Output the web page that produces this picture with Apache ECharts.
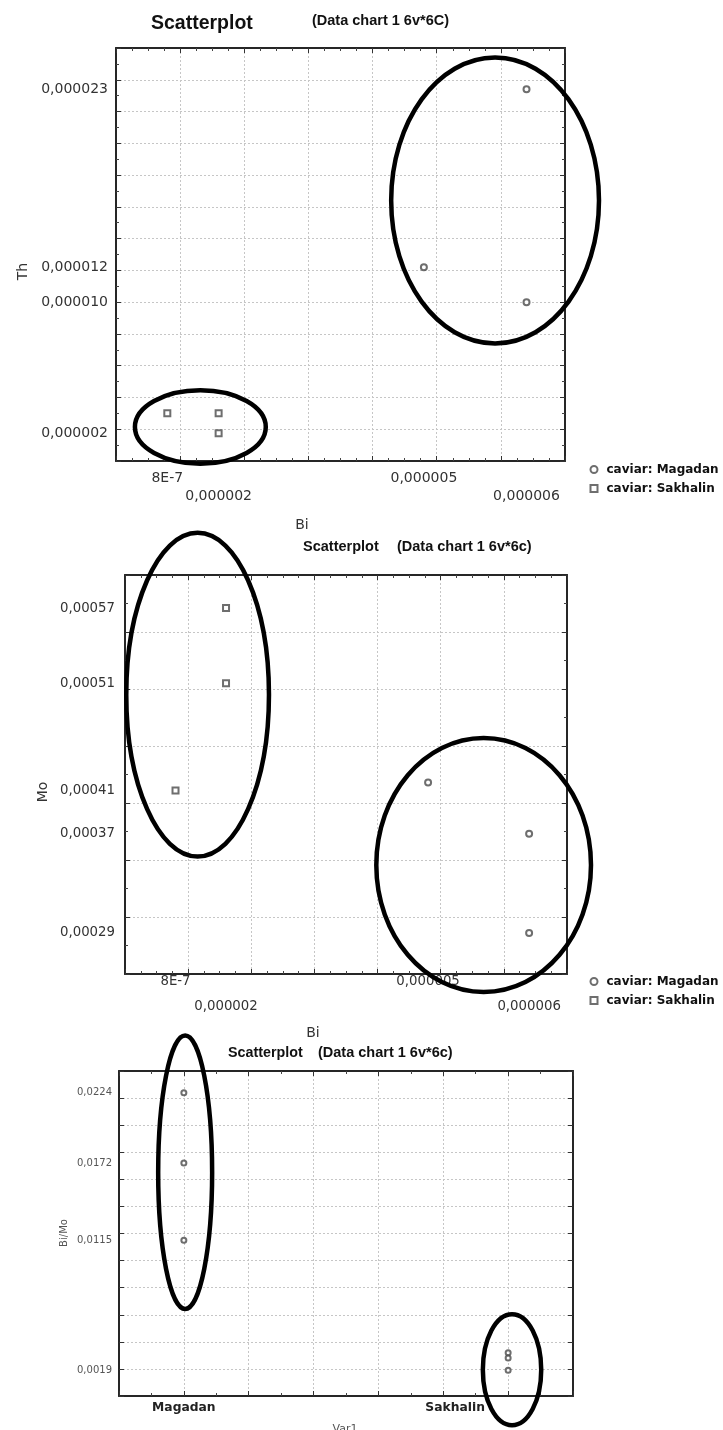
<!DOCTYPE html>
<html>
<head>
<meta charset="utf-8">
<script src="https://cdn.jsdelivr.net/npm/echarts@6/dist/echarts.min.js"></script>
<style>
  html, body { margin: 0; padding: 0; background: #fff; }
  #chart { width: 723px; height: 1430px; }
</style>
</head>
<body>
<div id="chart"></div>
<script>
// ---- Panel 1: Th against Bi ----
const thBiMagadan = [[6.4e-6, 23.4e-6], [4.8e-6, 12.2e-6], [6.4e-6, 10.0e-6]];
const thBiSakhalin = [[0.8e-6, 3.0e-6], [1.6e-6, 3.0e-6], [1.6e-6, 1.75e-6]];
// group outlines: centre x, centre y, radius x, radius y
const thBiGroups = [[5.91e-6, 16.4e-6, 1.62e-6, 9.0e-6], [1.315e-6, 2.14e-6, 1.02e-6, 2.31e-6]];
const biTickValues = [0.8e-6, 1.6e-6, 4.8e-6, 6.4e-6];
const biTickLabels = ['8E-7', '0,000002', '0,000005', '0,000006'];
const thTickValues = [23.4e-6, 12.2e-6, 10.0e-6, 1.75e-6];
const thTickLabels = ['0,000023', '0,000012', '0,000010', '0,000002'];

// ---- Panel 2: Mo against Bi ----
const moBiMagadan = [[4.8e-6, 0.000418], [6.4e-6, 0.000373], [6.4e-6, 0.000286]];
const moBiSakhalin = [[1.6e-6, 0.000571], [1.6e-6, 0.000505], [0.8e-6, 0.000411]];
const moBiGroups = [[1.15e-6, 0.000495, 1.13e-6, 0.000142], [5.68e-6, 0.0003456, 1.7e-6, 0.0001114]];
const moTickValues = [0.000571, 0.000505, 0.000411, 0.000373, 0.000286];
const moTickLabels = ['0,00057', '0,00051', '0,00041', '0,00037', '0,00029'];

// ---- Panel 3: Bi/Mo by region (Var1) ----
const regions = ['Magadan', 'Sakhalin'];
const regionCodes = [1, 6];
const ratioMagadan = [0.0224, 0.0172, 0.0115];
const ratioSakhalin = [0.0032, 0.0028, 0.0019];
const ratioGroups = [[1.02, 0.01652, 0.416, 0.0101], [6.06, 0.00194, 0.45, 0.0041]];
const ratioTickValues = [0.0224, 0.0172, 0.0115, 0.0019];
const ratioTickLabels = ['0,0224', '0,0172', '0,0115', '0,0019'];

const LEGEND_NAMES = ['caviar: Magadan', 'caviar: Sakhalin'];
const TICK_FONT = 'DejaVu Sans';
const TITLE_FONT = 'Liberation Sans';

function findTick(v, values) {
  return values.findIndex(t => Math.abs(t - v) <= Math.abs(t) * 1e-6 + 1e-15);
}
function lookup(v, values, labels) {
  const i = findTick(v, values);
  return i < 0 ? '' : labels[i];
}
function staggered(v, values, labels) {
  const i = findTick(v, values);
  if (i < 0) return '';
  return i % 2 ? '{gap| }\n{t|' + labels[i] + '}' : '{t|' + labels[i] + '}';
}

// Framed axis: labelled primary side plus a mirrored side for the box and inner ticks
function framedAxis(dim, gridIndex, o) {
  const isX = dim === 'x';
  const base = {
    type: 'value', gridIndex: gridIndex, min: o.min, max: o.max, interval: o.interval,
    axisLine: { show: true, onZero: false, lineStyle: { color: '#262626', width: 2 } },
    axisTick: { show: true, inside: true, length: 5, lineStyle: { color: '#333', width: 1 } },
    minorTick: { show: (o.minor || 0) > 1, splitNumber: o.minor || 2, length: 3, lineStyle: { color: '#444', width: 1 } },
    minorSplitLine: { show: false }
  };
  const primary = Object.assign({}, base, {
    position: isX ? 'bottom' : 'left',
    splitLine: { show: true, lineStyle: { color: '#c6c6c6', width: 1, type: [2, 2] } },
    axisLabel: o.label
  });
  const mirror = Object.assign({}, base, {
    position: isX ? 'top' : 'right',
    splitLine: { show: false },
    axisLabel: { show: false }
  });
  return [primary, mirror];
}

function staggerLabel(values, labels, size, margin, rowGap) {
  return {
    customValues: values, margin: margin, hideOverlap: false,
    formatter: v => staggered(v, values, labels),
    rich: {
      t: { fontFamily: TICK_FONT, fontSize: size, color: '#333', lineHeight: 14 },
      gap: { fontSize: 1, lineHeight: rowGap }
    }
  };
}
function plainLabel(values, labels, size, margin, color) {
  return {
    customValues: values, margin: margin, hideOverlap: false,
    fontFamily: TICK_FONT, fontSize: size, color: color,
    formatter: v => lookup(v, values, labels)
  };
}

const xAxes = [].concat(
  framedAxis('x', 0, { min: 0, max: 7e-6, interval: 1e-6, minor: 4,
    label: staggerLabel(biTickValues, biTickLabels, 14, 10.6, 18) }),
  framedAxis('x', 1, { min: 0, max: 7e-6, interval: 1e-6, minor: 4,
    label: staggerLabel(biTickValues, biTickLabels, 13.3, 1, 25) }),
  framedAxis('x', 2, { min: 0, max: 7, interval: 1, minor: 2,
    label: {
      customValues: regionCodes, margin: 6, hideOverlap: false,
      formatter: v => {
        const i = regionCodes.indexOf(Math.round(v));
        if (i < 0) return '';
        return i === 0 ? '{b|' + regions[i] + '}' : '{b|' + regions[i] + '}{s| }';
      },
      rich: {
        b: { fontFamily: TICK_FONT, fontWeight: 'bold', fontSize: 12.3, color: '#222' },
        s: { width: 106, fontSize: 1 }
      }
    } })
);

const yAxes = [].concat(
  framedAxis('y', 0, { min: 0, max: 26e-6, interval: 2e-6, minor: 2,
    label: plainLabel(thTickValues, thTickLabels, 14, 8, '#333') }),
  framedAxis('y', 1, { min: 0.00025, max: 0.0006, interval: 0.00005, minor: 2,
    label: plainLabel(moTickValues, moTickLabels, 13.3, 10, '#333') }),
  framedAxis('y', 2, { min: 0, max: 0.024, interval: 0.002, minor: 0,
    label: plainLabel(ratioTickValues, ratioTickLabels, 10, 7, '#555') })
);

function groupOutline(gridIndex, groups) {
  return {
    type: 'custom', xAxisIndex: gridIndex * 2, yAxisIndex: gridIndex * 2,
    data: groups, silent: true, z: 10, clip: false,
    encode: { x: 0, y: 1 },
    renderItem: (params, api) => {
      const c = api.coord([api.value(0), api.value(1)]);
      const s = api.size([api.value(2), api.value(3)]);
      return {
        type: 'ellipse',
        shape: { cx: c[0], cy: c[1], rx: s[0], ry: s[1] },
        style: { fill: 'none', stroke: '#000', lineWidth: 4.5 }
      };
    }
  };
}
function points(gridIndex, name, data, symbol, size) {
  return {
    type: 'scatter', name: name, xAxisIndex: gridIndex * 2, yAxisIndex: gridIndex * 2,
    data: data, symbol: symbol, symbolSize: size, z: 5,
    itemStyle: { color: '#4a4a4a', borderWidth: 1 }
  };
}

const legendStyle = {
  data: LEGEND_NAMES, orient: 'vertical', left: 584.5, itemWidth: 7, itemHeight: 7, itemGap: 7,
  selectedMode: false,
  textStyle: { fontFamily: TICK_FONT, fontWeight: 'bold', fontSize: 12, color: '#111', padding: [0, 0, 0, 4] }
};

function label(x, y, text, font, opts) {
  return Object.assign({
    type: 'text', x: x, y: y, silent: true,
    style: Object.assign({ text: text, font: font, fill: '#222', align: 'left', verticalAlign: 'middle' }, (opts && opts.style) || {})
  }, (opts && opts.el) || {});
}
const ROT = { rotation: Math.PI / 2 };

const option = {
  backgroundColor: '#fff',
  animation: false,
  grid: [
    { left: 116, top: 48, width: 449, height: 413, containLabel: false },
    { left: 125, top: 575, width: 442, height: 399, containLabel: false },
    { left: 119, top: 1071, width: 454, height: 325, containLabel: false }
  ],
  xAxis: xAxes,
  yAxis: yAxes,
  legend: [
    Object.assign({}, legendStyle, { top: 458.5 }),
    Object.assign({}, legendStyle, { top: 970.5 })
  ],
  graphic: [
    label(151, 23.5, 'Scatterplot', 'bold 19.5px "' + TITLE_FONT + '"', { style: { fill: '#111' } }),
    label(312, 20.5, '(Data chart 1 6v*6C)', 'bold 14.5px "' + TITLE_FONT + '"', { style: { fill: '#111' } }),
    label(23, 271.5, 'Th', '14px "' + TICK_FONT + '"', { style: { align: 'center', fill: '#333' }, el: ROT }),
    label(302, 525, 'Bi', '14px "' + TICK_FONT + '"', { style: { align: 'center', fill: '#333' } }),

    label(303, 546.5, 'Scatterplot', 'bold 14.5px "' + TITLE_FONT + '"', { style: { fill: '#111' } }),
    label(397, 546.5, '(Data chart 1 6v*6c)', 'bold 14.5px "' + TITLE_FONT + '"', { style: { fill: '#111' } }),
    label(43.5, 792, 'Mo', '14px "' + TICK_FONT + '"', { style: { align: 'center', fill: '#333' }, el: ROT }),
    label(313, 1033, 'Bi', '14px "' + TICK_FONT + '"', { style: { align: 'center', fill: '#333' } }),

    label(228, 1053, 'Scatterplot', 'bold 14.3px "' + TITLE_FONT + '"', { style: { fill: '#111' } }),
    label(318, 1053, '(Data chart 1 6v*6c)', 'bold 14.5px "' + TITLE_FONT + '"', { style: { fill: '#111' } }),
    label(64.5, 1233, 'Bi/Mo', '10px "' + TICK_FONT + '"', { style: { align: 'center', fill: '#555' }, el: ROT }),
    label(345, 1429, 'Var1', '11px "' + TICK_FONT + '"', { style: { align: 'center', fill: '#555' } })
  ],
  series: [
    points(0, LEGEND_NAMES[0], thBiMagadan, 'emptyCircle', 6),
    points(0, LEGEND_NAMES[1], thBiSakhalin, 'emptyRect', 6),
    groupOutline(0, thBiGroups),

    points(1, LEGEND_NAMES[0], moBiMagadan, 'emptyCircle', 6),
    points(1, LEGEND_NAMES[1], moBiSakhalin, 'emptyRect', 6),
    groupOutline(1, moBiGroups),

    points(2, regions[0], ratioMagadan.map(v => [regionCodes[0], v]), 'emptyCircle', 5),
    points(2, regions[1], ratioSakhalin.map(v => [regionCodes[1], v]), 'emptyCircle', 5),
    groupOutline(2, ratioGroups)
  ]
};

const chart = echarts.init(document.getElementById('chart'), null, { renderer: 'canvas' });
chart.setOption(option);
</script>
</body>
</html>
